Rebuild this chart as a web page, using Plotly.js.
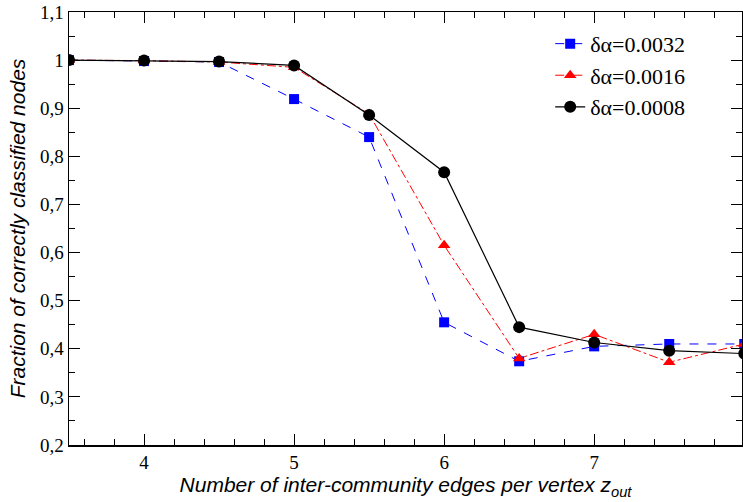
<!DOCTYPE html>
<html>
<head>
<meta charset="utf-8">
<script src="https://cdn.plot.ly/plotly-3.0.1.min.js"></script>
<style>html,body{margin:0;padding:0;background:#fff}#chart{width:743px;height:502px}</style>
</head>
<body>
<div id="chart"></div>
<script>
// Data
const zOut = [3.5, 4, 4.5, 5, 5.5, 6, 6.5, 7, 7.5, 8];
const frac0032 = [1.0, 0.998, 0.996, 0.919, 0.840, 0.455, 0.374, 0.405, 0.410, 0.410];
const frac0016 = [1.0, 0.999, 0.996, 0.985, 0.888, 0.615, 0.380, 0.430, 0.372, 0.410];
const frac0008 = [1.0, 0.999, 0.997, 0.989, 0.886, 0.767, 0.445, 0.413, 0.396, 0.390];
const seriesNames = ["δα=0.0032", "δα=0.0016", "δα=0.0008"];

const traces = [
  {x: zOut, y: frac0032, name: seriesNames[0], mode: 'lines+markers',
   line: {color: '#0000ff', width: 1, dash: 'dash'},
   marker: {symbol: 'square', size: 10, color: '#0000ff'}},
  {x: zOut, y: frac0016, name: seriesNames[1], mode: 'lines+markers',
   line: {color: '#ff0000', width: 1, dash: 'dashdot'},
   marker: {symbol: 'triangle-up', size: 11, color: '#ff0000'}},
  {x: zOut, y: frac0008, name: seriesNames[2], mode: 'lines+markers',
   line: {color: '#000000', width: 1.2},
   marker: {symbol: 'circle', size: 12, color: '#000000'}}
];

const serif = 'Liberation Serif';
const sans = 'Liberation Sans';

const axisCommon = {
  showline: true, linecolor: '#000', linewidth: 1.5, mirror: 'allticks',
  ticks: 'inside', ticklen: 11, tickwidth: 1, tickcolor: '#000',
  showgrid: false, zeroline: false,
  tickfont: {family: serif, size: 19, color: '#000'}
};

const layout = {
  width: 743, height: 502,
  margin: {l: 69, r: 1, t: 12, b: 57},
  paper_bgcolor: '#fff', plot_bgcolor: '#fff',
  separators: ',.',
  showlegend: true,
  legend: {x: 0.715, y: 0.975, xanchor: 'left', yanchor: 'top',
    bgcolor: 'rgba(0,0,0,0)', borderwidth: 0, tracegroupgap: 0,
    font: {family: serif, size: 22, color: '#000'}},
  xaxis: Object.assign({}, axisCommon, {
    range: [3.5, 7.985], dtick: 1, tick0: 0,
    minor: {dtick: 0.2, ticklen: 6, tickwidth: 1, tickcolor: '#000', ticks: 'inside'},
    title: {text: 'Number of inter-community edges per vertex z<sub>out</sub>', standoff: 2,
      font: {family: sans, size: 21, color: '#000', style: 'italic'}}
  }),
  yaxis: Object.assign({}, axisCommon, {
    range: [0.2, 1.1], dtick: 0.1, tick0: 0,
    minor: {dtick: 0.05, ticklen: 6, tickwidth: 1, tickcolor: '#000', ticks: 'inside'},
    title: {text: 'Fraction of correctly classified nodes', standoff: 8,
      font: {family: sans, size: 21, color: '#000', style: 'italic'}}
  })
};

Plotly.newPlot('chart', traces, layout, {displayModeBar: false, staticPlot: true});
</script>
</body>
</html>
